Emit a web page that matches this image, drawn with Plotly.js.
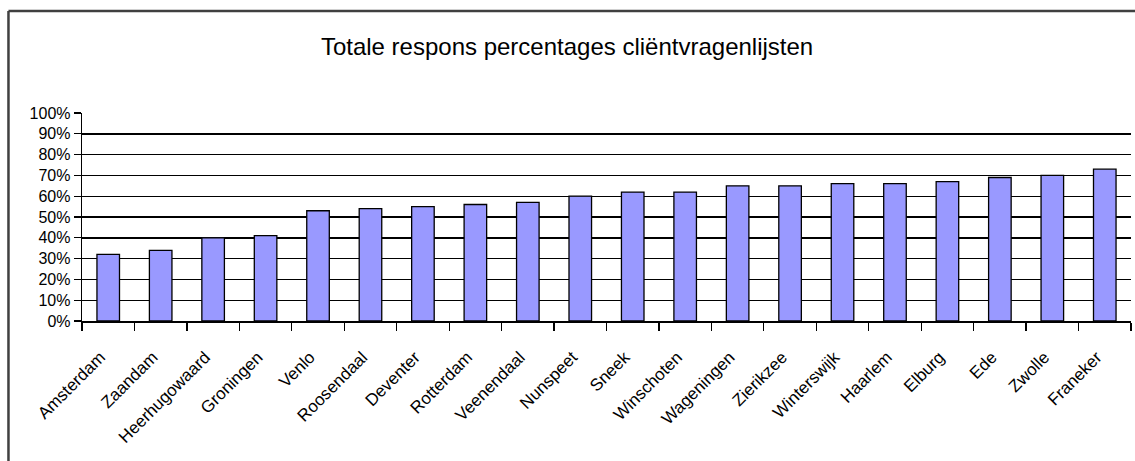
<!DOCTYPE html>
<html>
<head>
<meta charset="utf-8">
<script src="https://cdn.plot.ly/plotly-3.0.1.min.js"></script>
<style>
  html, body { margin: 0; padding: 0; background: #fff; }
  #chart { width: 1135px; height: 461px; }
</style>
</head>
<body>
<div id="chart"></div>
<script>
const categories = ["Amsterdam", "Zaandam", "Heerhugowaard", "Groningen", "Venlo", "Roosendaal",
  "Deventer", "Rotterdam", "Veenendaal", "Nunspeet", "Sneek", "Winschoten", "Wageningen",
  "Zierikzee", "Winterswijk", "Haarlem", "Elburg", "Ede", "Zwolle", "Franeker"];
const responsePct = [32, 34, 40, 41, 53, 54, 55, 56, 57, 60, 62, 62, 65, 65, 66, 66, 67, 69, 70, 73];
const titleText = "Totale respons percentages cliëntvragenlijsten";

const FONT = "Liberation Sans, Arial, sans-serif";

const trace = {
  type: "bar",
  x: categories,
  y: responsePct.map(v => v / 100),
  marker: { color: "#9999FF", line: { color: "#000000", width: 1.3 } },
  hoverinfo: "x+y"
};

const layout = {
  width: 1135,
  height: 461,
  margin: { l: 82, r: 4, t: 113, b: 140, pad: 0 },
  paper_bgcolor: "#ffffff",
  plot_bgcolor: "#ffffff",
  showlegend: false,
  bargap: 0.57,
  font: { family: FONT, color: "#000000" },
  title: {
    text: titleText,
    font: { family: FONT, size: 24, color: "#000000" },
    xref: "container", x: 0.4996, xanchor: "center",
    yref: "container", y: 0.898, yanchor: "middle"
  },
  xaxis: {
    type: "category",
    tickangle: -45,
    tickfont: { family: FONT, size: 17, color: "#000000" },
    ticklabelstandoff: 18,
    ticklabelshift: -8,
    ticks: "outside",
    tickson: "boundaries",
    ticklen: 8,
    tickcolor: "#000000",
    tickwidth: 1.3,
    showline: true,
    linecolor: "#000000",
    linewidth: 1.6,
    showgrid: false,
    zeroline: false,
    automargin: false
  },
  yaxis: {
    range: [0, 1],
    dtick: 0.1,
    tickformat: ".0%",
    tickfont: { family: FONT, size: 16, color: "#000000" },
    ticks: "outside",
    ticklen: 7,
    tickcolor: "#000000",
    tickwidth: 1.3,
    showline: true,
    linecolor: "#000000",
    linewidth: 1.3,
    showgrid: true,
    gridcolor: "#000000",
    gridwidth: 1.4,
    zeroline: false,
    fixedrange: true,
    automargin: false
  },
  shapes: [
    {
      type: "line", xref: "paper", yref: "paper",
      x0: -0.0701, x1: 1.01, y0: 1.4904, y1: 1.4904,
      line: { color: "#404040", width: 2.5 }, layer: "above"
    },
    {
      type: "line", xref: "paper", yref: "paper",
      x0: -0.0701, x1: -0.0701, y0: -0.7, y1: 1.4904,
      line: { color: "#404040", width: 2.5 }, layer: "above"
    }
  ]
};

Plotly.newPlot("chart", [trace], layout, { displayModeBar: false, staticPlot: true });
</script>
</body>
</html>
